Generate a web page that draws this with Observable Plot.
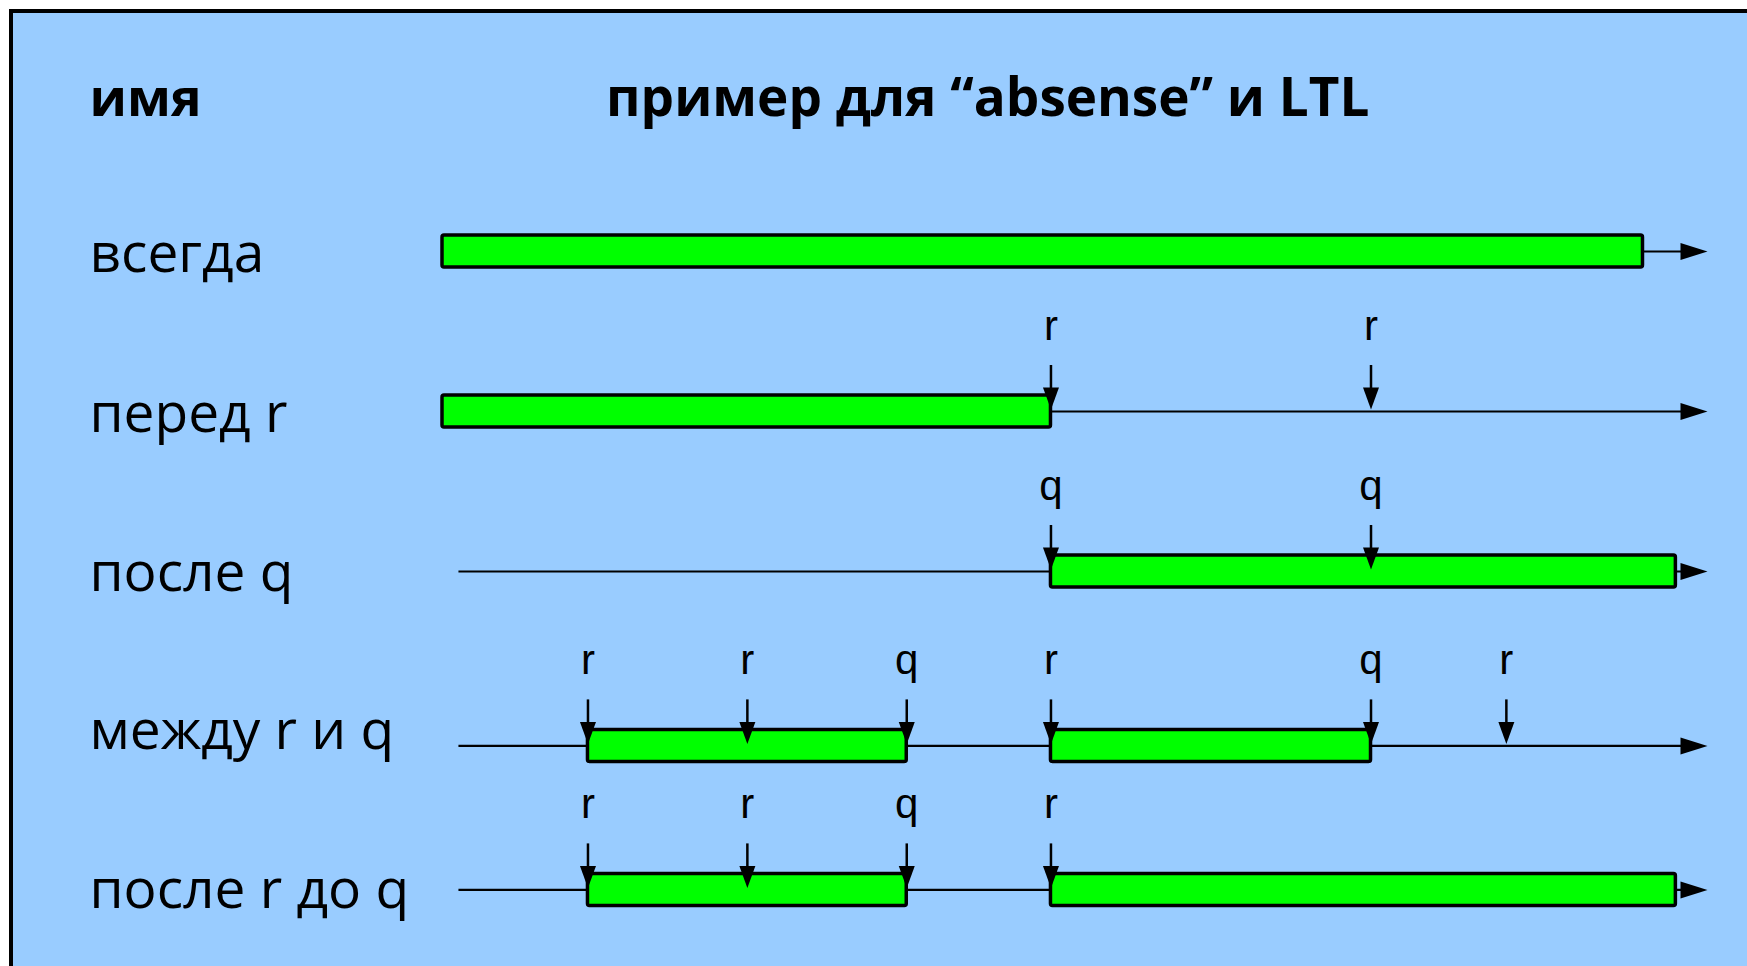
<!DOCTYPE html>
<html>
<head>
<meta charset="utf-8">
<script src="https://cdn.jsdelivr.net/npm/d3@7"></script>
<script src="https://cdn.jsdelivr.net/npm/@observablehq/plot@0.6"></script>
<style>
  body { margin: 0; background: #ffffff; }
  #wrap { position: relative; width: 1747px; height: 966px; overflow: hidden; }
  #box { position: absolute; left: 9px; top: 9px; width: 1800px; height: 1000px;
         border: 4px solid #000; background: #99CCFF; }
  #chart { position: absolute; left: 0; top: 0; }
</style>
</head>
<body>
<div id="wrap"><div id="box"></div><div id="chart"></div></div>
<script>
// ---- data ----
const headerName = "имя";
const headerExample = "пример для “absense” и LTL";
const headerLane = -0.844;
const headerExampleTime = 43.1;

const rowNames = ["всегда", "перед r", "после q", "между r и q", "после r до q"];
const rowLane = [0, 1, 2, 3.09, 3.99];          // timeline lanes
const labelLane = [0.13, 1.13, 2.12, 3.11, 4.1]; // row label baselines
const timelineStart = [0, 0, 1.3, 1.3, 1.3];
const timelineEnd = [100, 100, 100, 100, 100];

// green intervals (where the property holds)
const barRow = [0, 1, 2, 3, 3, 4, 4];
const barStart = [0, 0, 48.1, 11.5, 48.1, 11.5, 48.1];
const barEnd = [94.9, 48.1, 97.5, 36.7, 73.4, 36.7, 97.5];

// events r / q
const eventRow = [1, 1, 2, 2, 3, 3, 3, 3, 3, 3, 4, 4, 4, 4];
const eventTime = [48.1, 73.4, 48.1, 73.4, 11.5, 24.1, 36.7, 48.1, 73.4, 84.1, 11.5, 24.1, 36.7, 48.1];
const eventName = ["r", "r", "q", "q", "r", "r", "q", "r", "q", "r", "r", "r", "q", "r"];

// ---- tables ----
const rows = rowNames.map((name, i) => ({name, lane: rowLane[i], labelLane: labelLane[i], start: timelineStart[i], end: timelineEnd[i]}));
const bars = barRow.map((r, i) => ({lane: rowLane[r], start: barStart[i], end: barEnd[i]}));
const events = eventRow.map((r, i) => ({lane: rowLane[r], t: eventTime[i], name: eventName[i]}));

// ---- arrowhead symbols (tip at origin) ----
const arrowRight = {draw(ctx) { ctx.moveTo(0, 0); ctx.lineTo(-27, -8.5); ctx.lineTo(-27, 8.5); ctx.closePath(); }};
const arrowDown = {draw(ctx) { ctx.moveTo(0, 0); ctx.lineTo(-8, -22); ctx.lineTo(8, -22); ctx.closePath(); }};

const labelFont = "'Open Sans', 'Noto Sans', sans-serif";
const eventFont = "'Liberation Sans', Arial, sans-serif";

const chart = Plot.plot({
  width: 1747,
  height: 966,
  margin: 0,
  style: {background: "transparent", overflow: "visible"},
  x: {domain: [0, 100], range: [442, 1707], axis: null},
  y: {domain: [-1.56875, 4.46875], range: [0, 966], axis: null},
  marks: [
    // headers
    Plot.text([headerName], {frameAnchor: "left", dx: 89, y: () => headerLane, text: d => d,
      lineAnchor: "bottom", textAnchor: "start", fontFamily: labelFont, fontSize: 52, fontWeight: "bold", fill: "black"}),
    Plot.text([headerExample], {x: () => headerExampleTime, y: () => headerLane, text: d => d,
      lineAnchor: "bottom", textAnchor: "middle", fontFamily: labelFont, fontSize: 53, fontWeight: "bold", fill: "black"}),
    // row labels
    Plot.text(rows, {frameAnchor: "left", dx: 89, y: "labelLane", text: "name",
      lineAnchor: "bottom", textAnchor: "start", fontFamily: labelFont, fontSize: 55, fill: "black"}),
    // timelines
    Plot.ruleY(rows, {y: "lane", x1: "start", x2: "end", insetRight: 12, stroke: "black", strokeWidth: 2.2}),
    // green intervals
    Plot.rect(bars, {x1: "start", x2: "end", y1: "lane", y2: "lane", insetTop: -16, insetBottom: -16,
      fill: "#00FF00", stroke: "black", strokeWidth: 3.5, rx: 2}),
    // timeline arrowheads
    Plot.dot(rows, {x: "end", y: "lane", symbol: arrowRight, fill: "black", stroke: "none"}),
    // event arrows
    Plot.ruleX(events, {x: "t", y1: "lane", y2: "lane", insetTop: -46, insetBottom: 12, stroke: "black", strokeWidth: 2.5}),
    Plot.dot(events, {x: "t", y: "lane", dy: -2, symbol: arrowDown, fill: "black", stroke: "none"}),
    Plot.text(events, {x: "t", y: "lane", dy: -72, text: "name", lineAnchor: "bottom", textAnchor: "middle",
      fontFamily: eventFont, fontSize: 42, fill: "black"})
  ]
});
document.getElementById("chart").appendChild(chart);
</script>
</body>
</html>
